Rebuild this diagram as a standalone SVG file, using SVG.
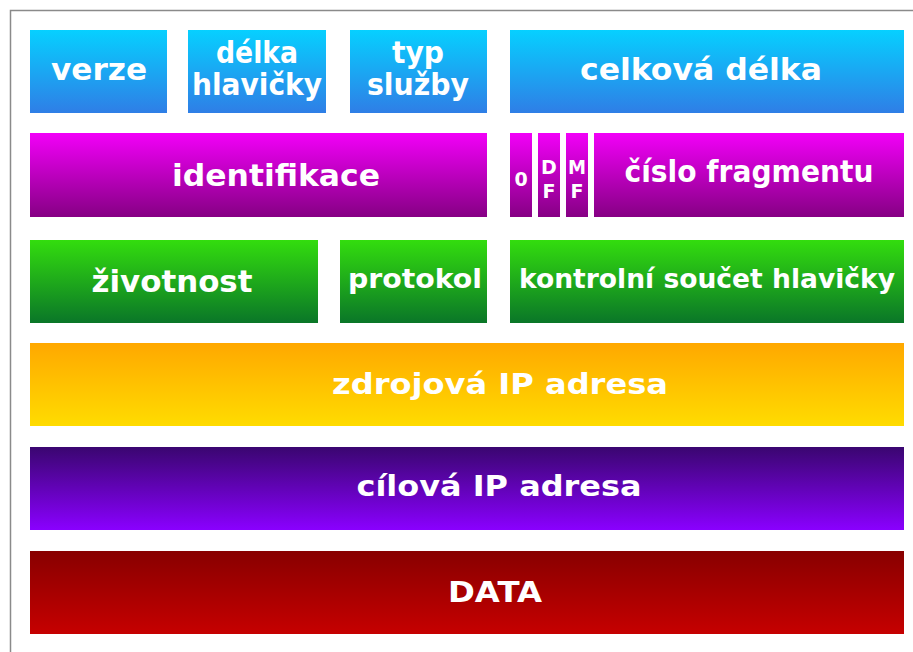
<svg xmlns="http://www.w3.org/2000/svg" width="913" height="652" viewBox="0 0 913 652">
<defs>
<linearGradient id="gBlue" x1="0" y1="0" x2="0" y2="1"><stop offset="0" stop-color="#06d0ff"/><stop offset="1" stop-color="#2f7ee6"/></linearGradient>
<linearGradient id="gMag" x1="0" y1="0" x2="0" y2="1"><stop offset="0" stop-color="#f200f8"/><stop offset="1" stop-color="#860084"/></linearGradient>
<linearGradient id="gGreen" x1="0" y1="0" x2="0" y2="1"><stop offset="0" stop-color="#33dd0e"/><stop offset="1" stop-color="#0a7628"/></linearGradient>
<linearGradient id="gOrange" x1="0" y1="0" x2="0" y2="1"><stop offset="0" stop-color="#ffa800"/><stop offset="1" stop-color="#ffdc00"/></linearGradient>
<linearGradient id="gPurple" x1="0" y1="0" x2="0" y2="1"><stop offset="0" stop-color="#3a0670"/><stop offset="1" stop-color="#8a00ff"/></linearGradient>
<linearGradient id="gRed" x1="0" y1="0" x2="0" y2="1"><stop offset="0" stop-color="#880000"/><stop offset="1" stop-color="#c60000"/></linearGradient>
</defs>
<style>
text{fill:#ffffff;font-family:"DejaVu Sans","Liberation Sans",sans-serif;font-weight:bold;text-anchor:middle;}
.b{font-size:30px;}
.s{font-size:19px;}
.c{font-size:29px;}
.m{font-size:26px;}
</style>
<rect x="0" y="0" width="913" height="652" fill="#ffffff"/>
<path d="M10.5 652 V10.5 H913" fill="none" stroke="#8a8a8a" stroke-width="1.5"/>
<g id="verze"><rect x="30" y="30" width="137" height="83" fill="url(#gBlue)"/><text class="b" x="99" y="80" textLength="96" lengthAdjust="spacingAndGlyphs">verze</text></g>
<g id="delka-hlavicky"><rect x="188" y="30" width="138" height="83" fill="url(#gBlue)"/><text class="b" x="257" y="63" textLength="82" lengthAdjust="spacingAndGlyphs">délka</text><text class="b" x="257" y="95" textLength="130" lengthAdjust="spacingAndGlyphs">hlavičky</text></g>
<g id="typ-sluzby"><rect x="350" y="30" width="137" height="83" fill="url(#gBlue)"/><text class="b" x="418" y="63" textLength="52" lengthAdjust="spacingAndGlyphs">typ</text><text class="b" x="418" y="95" textLength="102" lengthAdjust="spacingAndGlyphs">služby</text></g>
<g id="celkova-delka"><rect x="510" y="30" width="394" height="83" fill="url(#gBlue)"/><text class="b" x="701" y="80" textLength="242" lengthAdjust="spacingAndGlyphs">celková délka</text></g>
<g id="identifikace"><rect x="30" y="133" width="457" height="84" fill="url(#gMag)"/><text class="b" x="276" y="186" textLength="208" lengthAdjust="spacingAndGlyphs">identifikace</text></g>
<g id="bit0"><rect x="510" y="133" width="22" height="84" fill="url(#gMag)"/><text class="s" x="521" y="186">0</text></g>
<g id="df"><rect x="538" y="133" width="22" height="84" fill="url(#gMag)"/><text class="s" x="549" y="174">D</text><text class="s" x="549" y="198">F</text></g>
<g id="mf"><rect x="566" y="133" width="22" height="84" fill="url(#gMag)"/><text class="s" x="577" y="174" textLength="18" lengthAdjust="spacingAndGlyphs">M</text><text class="s" x="577" y="198">F</text></g>
<g id="cislo-fragmentu"><rect x="594" y="133" width="310" height="84" fill="url(#gMag)"/><text class="b" x="749" y="182" textLength="249" lengthAdjust="spacingAndGlyphs">číslo fragmentu</text></g>
<g id="zivotnost"><rect x="30" y="240" width="288" height="83" fill="url(#gGreen)"/><text class="b" x="172" y="292" textLength="161" lengthAdjust="spacingAndGlyphs">životnost</text></g>
<g id="protokol"><rect x="340" y="240" width="147" height="83" fill="url(#gGreen)"/><text class="m" x="415" y="288" textLength="134" lengthAdjust="spacingAndGlyphs">protokol</text></g>
<g id="kontrolni-soucet"><rect x="510" y="240" width="394" height="83" fill="url(#gGreen)"/><text class="m" x="707" y="288" textLength="376" lengthAdjust="spacingAndGlyphs">kontrolní součet hlavičky</text></g>
<g id="zdrojova-ip"><rect x="30" y="343" width="874" height="83" fill="url(#gOrange)"/><text class="c" x="500" y="394" textLength="336" lengthAdjust="spacingAndGlyphs">zdrojová IP adresa</text></g>
<g id="cilova-ip"><rect x="30" y="447" width="874" height="83" fill="url(#gPurple)"/><text class="c" x="499" y="496" textLength="285" lengthAdjust="spacingAndGlyphs">cílová IP adresa</text></g>
<g id="data"><rect x="30" y="551" width="874" height="83" fill="url(#gRed)"/><text class="c" x="495" y="602" textLength="94" lengthAdjust="spacingAndGlyphs">DATA</text></g>
<g id="connectors"></g>
</svg>
